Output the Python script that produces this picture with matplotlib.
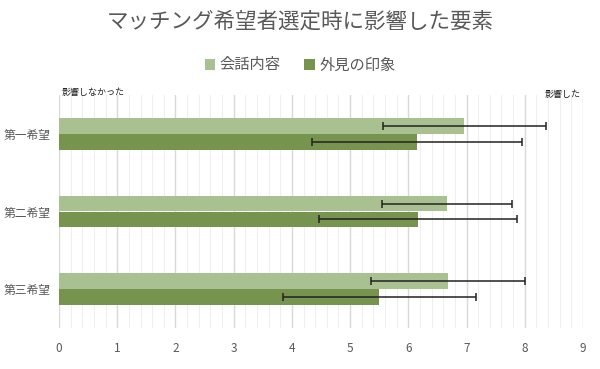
import matplotlib.pyplot as plt
import numpy as np
from matplotlib.ticker import MultipleLocator

plt.rcParams['font.family'] = ['Noto Sans CJK JP', 'DejaVu Sans']

# data
categories = ["第一希望", "第二希望", "第三希望"]
talk = [6.96, 6.66, 6.68]        # 会話内容
talk_err = [1.40, 1.12, 1.32]
looks = [6.15, 6.16, 5.50]       # 外見の印象
looks_err = [1.81, 1.70, 1.66]
series_names = ["会話内容", "外見の印象"]

light = "#A9C191"
dark = "#77944F"
grey = "#595959"

fig = plt.figure(figsize=(6.0, 3.69), dpi=100)
ax = fig.add_axes([59/600, 1-328/369, (583-59)/600, (328-95)/369])

y = np.arange(len(categories))
h = 0.205
ax.barh(y - h/2, talk, height=h, color=light, label=series_names[0], zorder=2)
ax.barh(y + h/2, looks, height=h, color=dark, label=series_names[1], zorder=2)
ax.errorbar(talk, y - h/2, xerr=talk_err, fmt='none', ecolor='#222222',
            elinewidth=1.1, capsize=3, capthick=1.1, zorder=3)
ax.errorbar(looks, y + h/2, xerr=looks_err, fmt='none', ecolor='#222222',
            elinewidth=1.1, capsize=3, capthick=1.1, zorder=3)

ax.set_xlim(0, 9)
ax.set_ylim(2.5, -0.5)
ax.xaxis.set_major_locator(MultipleLocator(1))
ax.xaxis.set_minor_locator(MultipleLocator(0.2))
ax.grid(axis='x', which='major', color='#D9D9D9', lw=1.0, zorder=0)
ax.grid(axis='x', which='minor', color='#EFEFEF', lw=0.8, zorder=0)
ax.set_yticks(y)
ax.set_yticklabels(categories, color=grey, fontsize=8.5)
ax.tick_params(axis='x', colors=grey, labelsize=8.5, length=0, pad=10)
ax.tick_params(axis='y', length=0, pad=6)
ax.tick_params(which='minor', length=0)
for s in ax.spines.values():
    s.set_visible(False)

fig.text(0.5, 1-22/369, "マッチング希望者選定時に影響した要素", ha='center', va='center',
         fontsize=15.5, color=grey)
fig.legend(loc='center', bbox_to_anchor=(0.5, 1-65/369), ncol=2, frameon=False,
           fontsize=11, handlelength=0.7, handleheight=0.7, handletextpad=0.3,
           columnspacing=1.5, labelcolor=grey)
fig.text(62/600, 1-92/369, "影響しなかった", ha='left', va='center', fontsize=6.5, color='#222222')
fig.text(545/600, 1-94/369, "影響した", ha='left', va='center', fontsize=6.5, color='#222222')

fig.savefig("out.png", dpi=100, facecolor='white')
